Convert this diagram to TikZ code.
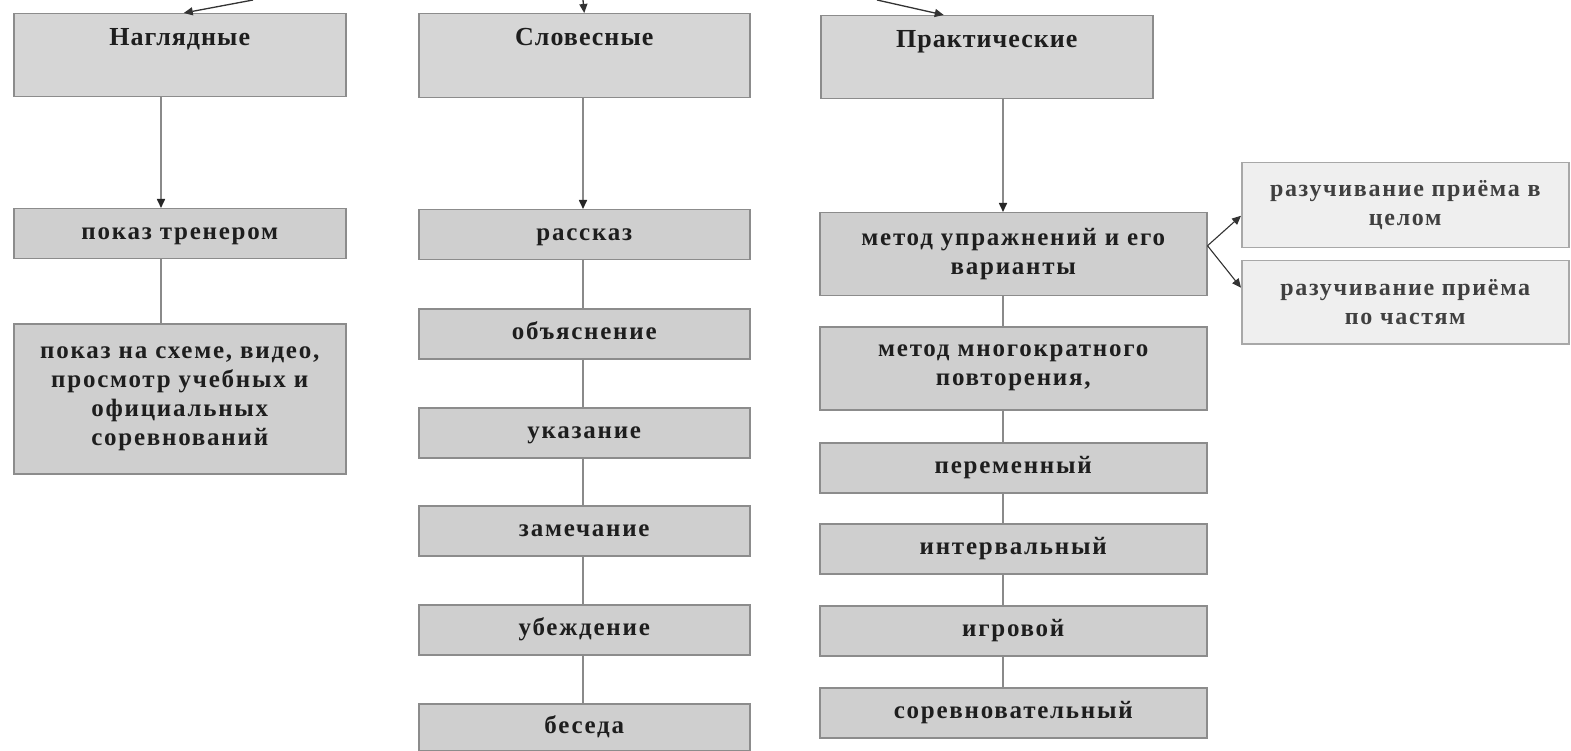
\documentclass[tikz,border=0pt]{standalone}
\usepackage{fontspec}
\setmainfont{Liberation Serif}
\newfontfamily\spacedfont[LetterSpace=7]{Liberation Serif}
\newfontfamily\hdrfont[LetterSpace=4]{Liberation Serif}
\usetikzlibrary{arrows.meta,calc}
\definecolor{boxfill}{HTML}{CFCFCF}
\definecolor{hdrfill}{HTML}{D6D6D6}
\definecolor{boxline}{HTML}{8C8C8C}
\definecolor{lightfill}{HTML}{EFEFEF}
\definecolor{lightline}{HTML}{A8A8A8}
\definecolor{conn}{HTML}{8A8A8A}
\definecolor{txt}{HTML}{1E1E1E}
\newcommand{\oneline}[1]{\raisebox{-6pt}[0pt][0pt]{#1}}
\begin{document}
\begin{tikzpicture}[x=1pt,y=-1pt,
  base/.style={draw=boxline, line width=1.5pt, inner sep=0pt, anchor=north west, align=center,
    font=\spacedfont\bfseries\fontsize{25}{29}\selectfont, text=txt},
  hdr/.style={base, fill=hdrfill, minimum height=83pt},
  box/.style={base, fill=boxfill, minimum height=50pt},
  lbox/.style={base, draw=lightline, fill=lightfill, font=\spacedfont\bfseries\fontsize{24}{29}\selectfont, text=black!75},
  hdrtext/.style={inner sep=0pt, anchor=north, font=\hdrfont\bfseries\fontsize{26}{30}\selectfont, text=txt},
  link/.style={draw=conn, line width=1.6pt},
  arr/.style={link, -{Triangle[length=9pt,width=8pt,color=black!85]}},
  toparr/.style={draw=black!80, line width=1.3pt, -{Triangle[length=9pt,width=8pt]}}
]
\useasboundingbox (0,0) rectangle (1571,751);
\fill[white] (0,0) rectangle (1571,751);

% column 1
\node[hdr, minimum width=332pt] (nagl) at (13,13) {};
\node[hdrtext] (naglT) at ([yshift=-15pt]nagl.north) {Наглядные};
\node[box, minimum width=332pt] (pokaz) at (13,208) {\oneline{показ тренером}};
\node[box, minimum width=332pt, minimum height=150pt] (shema) at (13,323)
  {показ на схеме, видео,\\просмотр учебных и\\официальных\\соревнований};

% column 2
\node[hdr, minimum width=331pt, minimum height=84pt] (slov) at (418,13) {};
\node[hdrtext] (slovT) at ([yshift=-15pt]slov.north) {Словесные};
\node[box, minimum width=331pt] (rasskaz) at (418,209) {\oneline{рассказ}};
\node[box, minimum width=331pt] (obyasn) at (418,308) {\oneline{объяснение}};
\node[box, minimum width=331pt] (ukaz) at (418,407) {\oneline{указание}};
\node[box, minimum width=331pt] (zamech) at (418,505) {\oneline{замечание}};
\node[box, minimum width=331pt] (ubezh) at (418,604) {\oneline{убеждение}};
\node[box, minimum width=331pt, minimum height=47pt] (beseda) at (418,703) {\oneline{беседа}};

% column 3
\node[hdr, minimum width=332pt] (prak) at (820,15) {};
\node[hdrtext] (prakT) at ([yshift=-15pt]prak.north) {Практические};
\node[box, minimum width=387pt, minimum height=83pt] (upr) at (819,212) {метод упражнений и его\\варианты};
\node[box, minimum width=387pt, minimum height=83pt] (mnog) at (819,326) {метод многократного\\повторения,};
\node[box, minimum width=387pt] (perem) at (819,442) {\oneline{переменный}};
\node[box, minimum width=387pt] (interv) at (819,523) {\oneline{интервальный}};
\node[box, minimum width=387pt] (igr) at (819,605) {\oneline{игровой}};
\node[box, minimum width=387pt] (sorev) at (819,687) {\oneline{соревновательный}};

% right boxes
\node[lbox, minimum width=327pt, minimum height=85pt] (cel) at (1241,162) {разучивание приёма в\\целом};
\node[lbox, minimum width=327pt, minimum height=83pt] (chast) at (1241,260) {разучивание приёма\\по частям};

% connector x positions and free ends
\coordinate (c1) at (161,0);
\coordinate (c2) at (583,0);
\coordinate (c3) at (1003,0);
\coordinate (s1) at (253,0);
\coordinate (s2) at (583,0);
\coordinate (s3) at (877,0);

% top arrows
\draw[toparr] (s1) -- ([xshift=4pt]nagl.north);
\draw[toparr] (s2) -- (slov.north);
\draw[toparr] (s3) -- ([xshift=-43pt]prak.north);

% column 1 connectors
\draw[arr] (nagl.south -| c1) -- (pokaz.north -| c1);
\draw[link] (pokaz.south -| c1) -- (shema.north -| c1);

% column 2 connectors
\draw[arr] (slov.south -| c2) -- (rasskaz.north -| c2);
\draw[link] (rasskaz.south -| c2) -- (obyasn.north -| c2);
\draw[link] (obyasn.south -| c2) -- (ukaz.north -| c2);
\draw[link] (ukaz.south -| c2) -- (zamech.north -| c2);
\draw[link] (zamech.south -| c2) -- (ubezh.north -| c2);
\draw[link] (ubezh.south -| c2) -- (beseda.north -| c2);

% column 3 connectors
\draw[arr] (prak.south -| c3) -- (upr.north -| c3);
\draw[link] (upr.south -| c3) -- (mnog.north -| c3);
\draw[link] (mnog.south -| c3) -- (perem.north -| c3);
\draw[link] (perem.south -| c3) -- (interv.north -| c3);
\draw[link] (interv.south -| c3) -- (igr.north -| c3);
\draw[link] (igr.south -| c3) -- (sorev.north -| c3);

% branch arrows
\draw[toparr, line width=1.1pt] ([yshift=8.5pt]upr.east) -- ([yshift=-10.5pt]cel.west);
\draw[toparr, line width=1.1pt] ([yshift=8.5pt]upr.east) -- ([yshift=14.5pt]chast.west);
\end{tikzpicture}
\end{document}
